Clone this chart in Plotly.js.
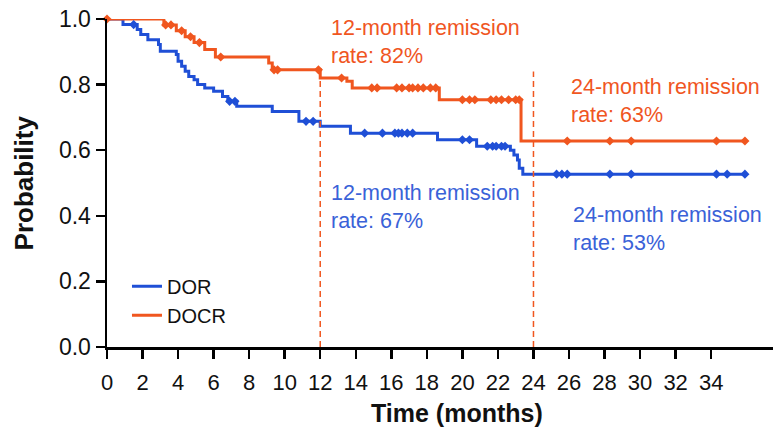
<!DOCTYPE html>
<html>
<head>
<meta charset="utf-8">
<script src="https://cdn.plot.ly/plotly-3.0.1.min.js"></script>
<style>html,body{margin:0;padding:0;background:#fff;}#chart{width:773px;height:436px;}</style>
</head>
<body>
<div id="chart"></div>
<script>
// DOR (blue) Kaplan-Meier steps
var dorTimes = [0, 0.9, 1.7, 1.9, 2.3, 2.9, 3.0, 3.9, 4.0, 4.2, 4.4, 4.6, 4.9, 5.1, 5.5, 6.0, 6.5, 6.8, 7.3, 9.3, 10.8, 12.0, 13.7, 18.6, 20.8, 22.7, 22.9, 23.1, 23.2, 23.4, 35.9];
var dorSurv  = [1.0, 0.983, 0.968, 0.953, 0.937, 0.922, 0.902, 0.892, 0.871, 0.856, 0.841, 0.825, 0.815, 0.80, 0.79, 0.78, 0.764, 0.749, 0.734, 0.718, 0.688, 0.673, 0.652, 0.632, 0.612, 0.60, 0.585, 0.57, 0.545, 0.527, 0.527];
var dorCensor = [1.5, 6.9, 7.2, 11.2, 11.6, 14.5, 15.5, 16.2, 16.4, 16.6, 16.9, 17.2, 20.0, 20.4, 21.4, 21.7, 21.9, 22.2, 22.4, 25.3, 25.6, 25.9, 28.3, 29.5, 34.3, 34.9, 35.9];

// DOCR (orange) Kaplan-Meier steps
var docrTimes = [0, 3.2, 3.9, 4.4, 4.9, 5.5, 6.1, 9.1, 9.3, 12.0, 13.5, 13.8, 18.7, 23.3, 35.9];
var docrSurv  = [1.0, 0.982, 0.964, 0.946, 0.928, 0.907, 0.884, 0.866, 0.845, 0.82, 0.81, 0.79, 0.754, 0.628, 0.628];
var docrCensor = [0, 3.3, 3.6, 4.2, 4.7, 5.2, 6.4, 9.4, 9.6, 11.9, 13.2, 14.9, 15.2, 16.3, 16.6, 17.0, 17.2, 17.5, 17.8, 18.2, 18.5, 20.0, 20.4, 20.7, 21.6, 21.9, 22.2, 22.6, 23.0, 23.2, 25.9, 28.3, 29.5, 34.3, 35.9];

var seriesNames = ['DOR', 'DOCR'];
var xTicks = [0, 2, 4, 6, 8, 10, 12, 14, 16, 18, 20, 22, 24, 26, 28, 30, 32, 34];
var yTicks = [0.0, 0.2, 0.4, 0.6, 0.8, 1.0];
var landmarkMonths = [12, 24];
var landmarkTop = [0.82, 0.84];
var noteLabels = ['12-month remission<br>rate: 82%', '24-month remission<br>rate: 63%', '12-month remission<br>rate: 67%', '24-month remission<br>rate: 53%'];
var xTitle = 'Time (months)';
var yTitle = 'Probability';

var BLUE = '#1f4fd6', ORANGE = '#f0561f';
var FONT = 'Liberation Sans, Arial, sans-serif';

function stepAt(times, surv, t) {
  var v = surv[0];
  for (var i = 0; i < times.length; i++) { if (times[i] <= t) v = surv[i]; }
  return v;
}

var traces = [];
traces.push({x: dorTimes, y: dorSurv, type: 'scatter', mode: 'lines', line: {shape: 'hv', color: BLUE, width: 3}, name: seriesNames[0], cliponaxis: false});
traces.push({x: docrTimes, y: docrSurv, type: 'scatter', mode: 'lines', line: {shape: 'hv', color: ORANGE, width: 3}, name: seriesNames[1], cliponaxis: false});
traces.push({x: dorCensor, y: dorCensor.map(function(t){return stepAt(dorTimes, dorSurv, t);}), type: 'scatter', mode: 'markers', marker: {symbol: 'diamond', size: 7, color: BLUE}, showlegend: false, cliponaxis: false});
traces.push({x: docrCensor, y: docrCensor.map(function(t){return stepAt(docrTimes, docrSurv, t);}), type: 'scatter', mode: 'markers', marker: {symbol: 'diamond', size: 7, color: ORANGE}, showlegend: false, cliponaxis: false});
landmarkMonths.forEach(function(m, i){
  traces.push({x: [m, m], y: [0, landmarkTop[i]], type: 'scatter', mode: 'lines', line: {color: ORANGE, width: 1.5, dash: '6px,4px'}, showlegend: false, hoverinfo: 'skip'});
});

var annotations = [
  {x: 12.5, y: 1.015, yref: 'paper', text: noteLabels[0], color: ORANGE},
  {x: 26.0, y: 0.835, yref: 'y', text: noteLabels[1], color: ORANGE},
  {x: 12.5, y: 0.512, yref: 'y', text: noteLabels[2], color: '#3a62d8'},
  {x: 26.1, y: 0.445, yref: 'y', text: noteLabels[3], color: '#3a62d8'}
].map(function(a){
  return {x: a.x, y: a.y, xref: 'x', yref: a.yref, text: a.text, showarrow: false, xanchor: 'left', yanchor: 'top', align: 'left',
          font: {family: FONT, size: 21.5, color: a.color}};
});
annotations.push({xref: 'paper', yref: 'paper', x: (457 - 107) / 666, y: -0.2, yanchor: 'middle', xanchor: 'center', showarrow: false,
  text: '<b>' + xTitle + '</b>', font: {family: FONT, size: 25, color: '#111'}});
annotations.push({xref: 'paper', yref: 'paper', x: -0.124, y: 0.5, yanchor: 'middle', xanchor: 'center', showarrow: false, textangle: -90,
  text: '<b>' + yTitle + '</b>', font: {family: FONT, size: 26, color: '#111'}});

var layout = {
  width: 773, height: 436,
  margin: {l: 107, r: 0, t: 19, b: 89},
  paper_bgcolor: '#fff', plot_bgcolor: '#fff',
  font: {family: FONT, color: '#111'},
  showlegend: true,
  legend: {x: 0.03, y: 0.245, xanchor: 'left', yanchor: 'top', bgcolor: 'rgba(0,0,0,0)', font: {size: 20, color: '#111'}, tracegroupgap: 0},
  xaxis: {range: [0, 37.48], tickvals: xTicks, ticktext: xTicks.map(String), showgrid: false, zeroline: false, showline: true, linecolor: '#000', linewidth: 2.5,
          ticks: 'outside', ticklen: 9, tickwidth: 2.5, tickcolor: '#000', tickfont: {size: 22, color: '#111'}, ticklabelstandoff: 5},
  yaxis: {range: [0, 1.0], tickvals: yTicks, ticktext: yTicks.map(function(v){return v.toFixed(1);}), showgrid: false, zeroline: false, showline: true, linecolor: '#000', linewidth: 2.5,
          ticks: 'outside', ticklen: 9, tickwidth: 2.5, tickcolor: '#000', tickfont: {size: 23, color: '#111'}},
  annotations: annotations
};

Plotly.newPlot('chart', traces, layout, {displayModeBar: false, staticPlot: true});
</script>
</body>
</html>
